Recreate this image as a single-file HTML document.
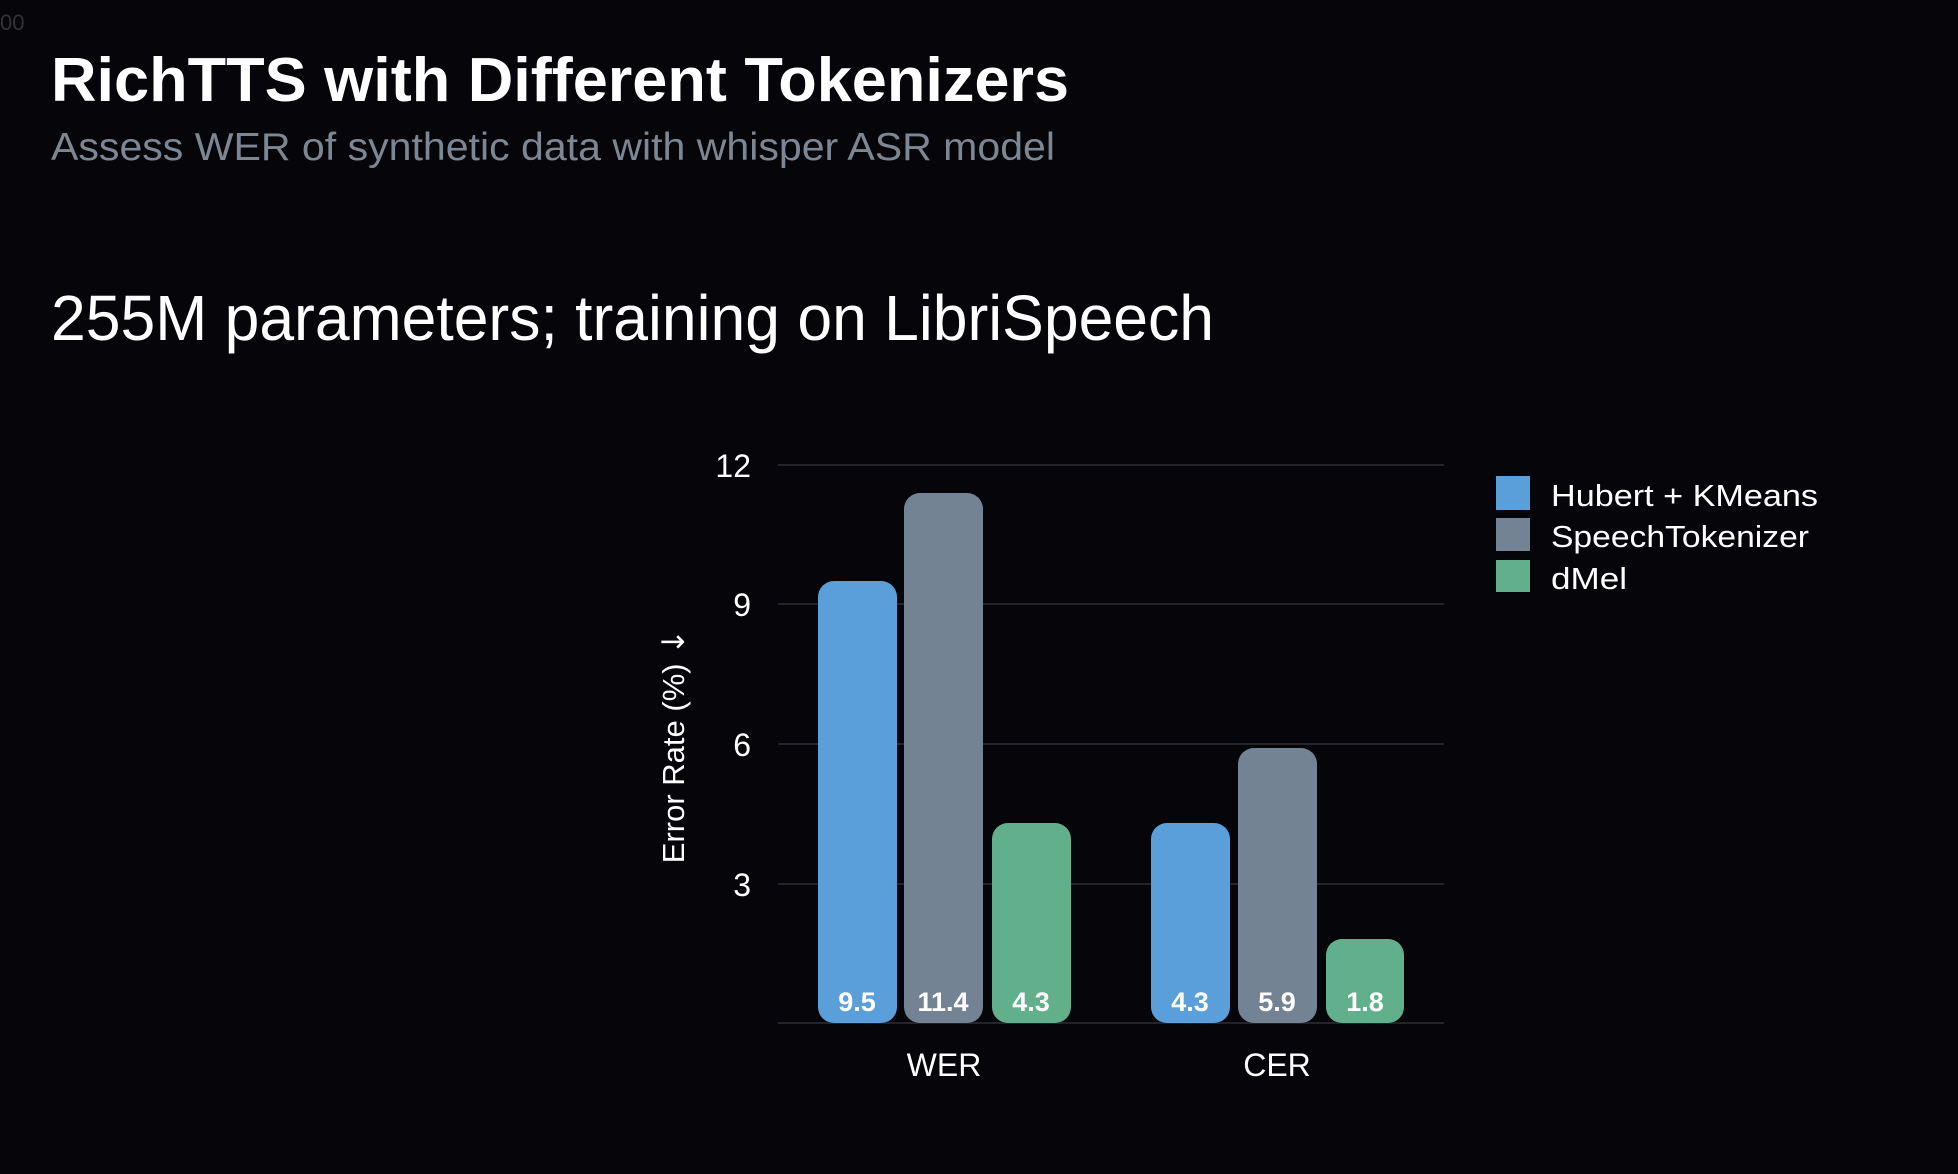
<!DOCTYPE html>
<html><head><meta charset="utf-8"><style>
html,body{margin:0;padding:0;background:#05050a;}
svg{display:block;}
text{font-family:"Liberation Sans","DejaVu Sans",sans-serif;}
</style></head><body>
<svg width="1958" height="1174" viewBox="0 0 1958 1174" xmlns="http://www.w3.org/2000/svg">
<rect width="1958" height="1174" fill="#05050a"/>
<text x="0" y="30" font-size="22" fill="#333">00</text>
<text x="51" y="101" font-size="62" font-weight="bold" fill="#fff" textLength="1018" lengthAdjust="spacingAndGlyphs">RichTTS with Different Tokenizers</text>
<text x="51" y="160" font-size="39" fill="#7d8794" textLength="1004" lengthAdjust="spacingAndGlyphs">Assess WER of synthetic data with whisper ASR model</text>
<text x="51" y="340" font-size="64" fill="#fff" textLength="1163" lengthAdjust="spacingAndGlyphs">255M parameters; training on LibriSpeech</text>
<g stroke="#23232c" stroke-width="2">
<line x1="778" y1="465" x2="1444" y2="465"/>
<line x1="778" y1="604" x2="1444" y2="604"/>
<line x1="778" y1="744" x2="1444" y2="744"/>
<line x1="778" y1="884" x2="1444" y2="884"/>
<line x1="778" y1="1023" x2="1444" y2="1023"/>
</g>
<g font-size="32" fill="#fff" text-anchor="end">
<text x="751" y="477">12</text>
<text x="751" y="616">9</text>
<text x="751" y="756">6</text>
<text x="751" y="896">3</text>
</g>
<text transform="translate(684,746) rotate(-90)" font-size="31" fill="#fff" text-anchor="middle">Error Rate (%) <tspan font-family="DejaVu Sans">↓</tspan></text>
<g>
<rect x="818" y="581" width="79" height="442" rx="16" fill="#5a9fd9"/>
<rect x="904" y="493" width="79" height="530" rx="16" fill="#738394"/>
<rect x="992" y="823" width="79" height="200" rx="16" fill="#62af8c"/>
<rect x="1151" y="823" width="79" height="200" rx="16" fill="#5a9fd9"/>
<rect x="1238" y="748" width="79" height="275" rx="16" fill="#738394"/>
<rect x="1326" y="939" width="78" height="84" rx="16" fill="#62af8c"/>
</g>
<g font-size="27" fill="#fff" text-anchor="middle" font-weight="bold">
<text x="857" y="1011">9.5</text>
<text x="943" y="1011">11.4</text>
<text x="1031" y="1011">4.3</text>
<text x="1190" y="1011">4.3</text>
<text x="1277" y="1011">5.9</text>
<text x="1365" y="1011">1.8</text>
</g>
<g font-size="32" fill="#fff" text-anchor="middle">
<text x="944" y="1076">WER</text>
<text x="1277" y="1076">CER</text>
</g>
<rect x="1496" y="476" width="34" height="34" fill="#5a9fd9"/>
<rect x="1496" y="518" width="34" height="33" fill="#738394"/>
<rect x="1496" y="560" width="34" height="32" fill="#62af8c"/>
<g font-size="31" fill="#fff">
<text x="1551" y="506" textLength="267" lengthAdjust="spacingAndGlyphs">Hubert + KMeans</text>
<text x="1551" y="547" textLength="258" lengthAdjust="spacingAndGlyphs">SpeechTokenizer</text>
<text x="1551" y="589" textLength="76" lengthAdjust="spacingAndGlyphs">dMel</text>
</g>
</svg>
</body></html>
